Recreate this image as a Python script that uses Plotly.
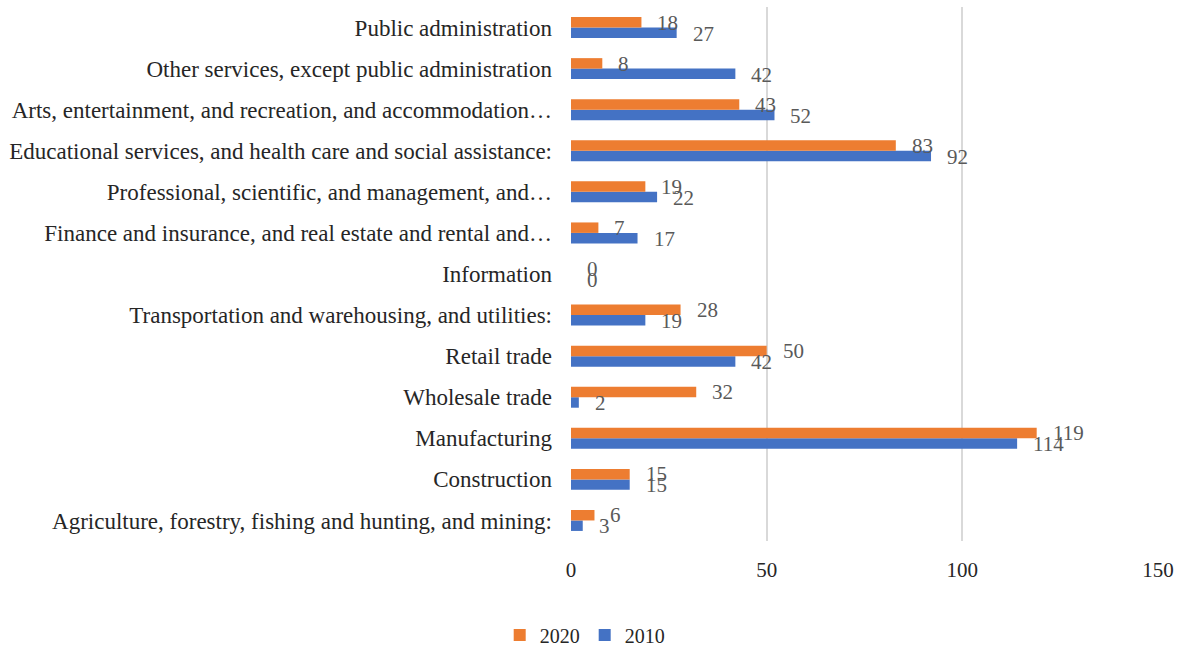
import plotly.graph_objects as go

categories = [
    "Agriculture, forestry, fishing and hunting, and mining:",
    "Construction",
    "Manufacturing",
    "Wholesale trade",
    "Retail trade",
    "Transportation and warehousing, and utilities:",
    "Information",
    "Finance and insurance, and real estate and rental and…",
    "Professional, scientific, and management, and…",
    "Educational services, and health care and social assistance:",
    "Arts, entertainment, and recreation, and accommodation…",
    "Other services, except public administration",
    "Public administration",
]
values_2010 = [3, 15, 114, 2, 42, 19, 0, 17, 22, 92, 52, 42, 27]
values_2020 = [6, 15, 119, 32, 50, 28, 0, 7, 19, 83, 43, 8, 18]
x_ticks = [0, 50, 100, 150]

ORANGE = "#ED7D31"
BLUE = "#4472C4"
FONT = "Liberation Serif"

fig = go.Figure()
fig.add_trace(go.Bar(y=categories, x=values_2010, orientation="h", name="2010",
                     marker=dict(color=BLUE, line=dict(width=0))))
fig.add_trace(go.Bar(y=categories, x=values_2020, orientation="h", name="2020",
                     marker=dict(color=ORANGE, line=dict(width=0))))

annotations = []
for cat, v in zip(categories, values_2020):
    annotations.append(dict(x=v, y=cat, xref="x", yref="y", text=str(v),
                            showarrow=False, xanchor="left", yanchor="middle",
                            xshift=14, yshift=5,
                            font=dict(family=FONT, size=21, color="#595959")))
for cat, v in zip(categories, values_2010):
    annotations.append(dict(x=v, y=cat, xref="x", yref="y", text=str(v),
                            showarrow=False, xanchor="left", yanchor="middle",
                            xshift=14, yshift=-6,
                            font=dict(family=FONT, size=21, color="#595959")))

fig.update_layout(
    width=1186, height=648,
    margin=dict(l=571, r=28, t=7, b=107),
    paper_bgcolor="white", plot_bgcolor="white",
    barmode="group", bargap=0.49, bargroupgap=0,
    font=dict(family=FONT, size=20, color="#262626"),
    showlegend=True,
    legend=dict(orientation="h", traceorder="reversed",
                xref="container", yref="container",
                x=0.493, y=0.02, xanchor="center", yanchor="middle",
                font=dict(family=FONT, size=20, color="#262626"),
                itemwidth=30),
    annotations=annotations,
)
fig.update_xaxes(range=[0, 150], tickvals=x_ticks, showgrid=True,
                 gridcolor="#D9D9D9", gridwidth=1.5, zeroline=False,
                 showline=False, ticklabelstandoff=14,
                 tickfont=dict(family=FONT, size=21, color="#262626"))
fig.update_yaxes(showgrid=False, zeroline=False, showline=False,
                 ticklabelstandoff=18, automargin=False,
                 tickfont=dict(family=FONT, size=23, color="#262626"))

fig.write_html("out.html")
